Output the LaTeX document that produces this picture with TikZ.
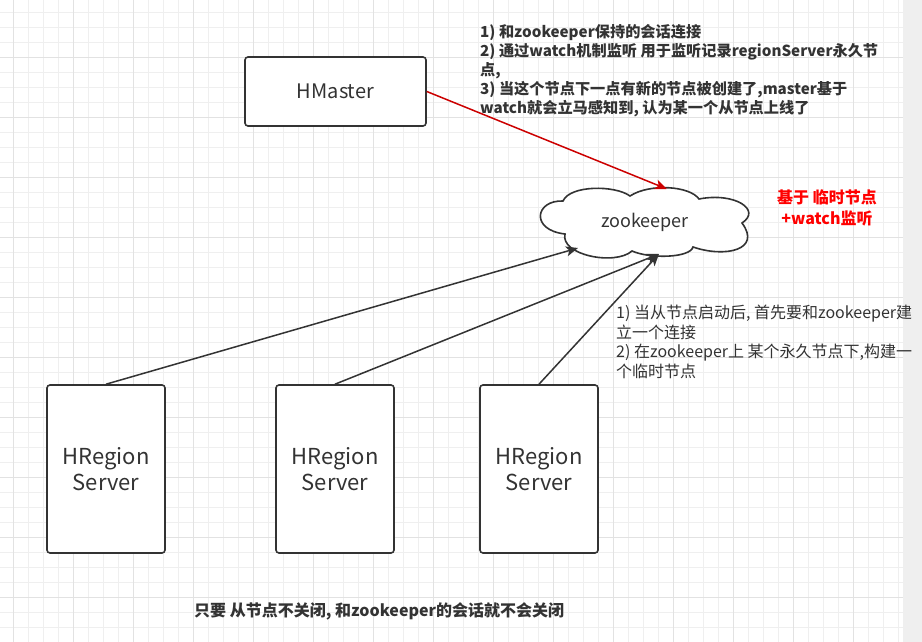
\documentclass[tikz,border=0pt]{standalone}
\usepackage{fontspec}
\setmainfont{Noto Sans CJK SC}
\usetikzlibrary{arrows.meta}
\definecolor{ink}{HTML}{333333}
\definecolor{gridminor}{HTML}{EFEFEF}
\definecolor{gridmajor}{HTML}{E2E2E2}
\definecolor{sidebar}{HTML}{EFEFEF}
\definecolor{redline}{HTML}{CC0000}
\definecolor{rednote}{HTML}{FF0000}
\begin{document}
\begin{tikzpicture}[x=1pt,y=-1pt,
  box/.style={draw=ink, line width=1.6pt, rounded corners=3pt, fill=white, text=ink, align=center, inner sep=0pt},
  bigtext/.style={font=\fontsize{22}{26}\selectfont},
  conn/.style={draw=ink, line width=1.5pt, -{Stealth[length=12pt,width=10pt,inset=3pt]}},
  redconn/.style={draw=redline, line width=1.5pt, -{Stealth[length=12pt,width=10pt,inset=3pt]}},
  note/.style={text=ink, align=left, inner sep=0pt, anchor=north west},
  cloudline/.style={draw=ink, line width=1.6pt, fill=white}]
\useasboundingbox (0,0) rectangle (922,642);
% background grid
\fill[white] (0,0) rectangle (922,642);
\foreach \k in {0,...,60} {\draw[gridminor, line width=1pt] ({-1.7+15*\k},0) -- ({-1.7+15*\k},642);}
\foreach \k in {0,...,43} {\draw[gridminor, line width=1pt] (0,{-2.7+15*\k}) -- (903,{-2.7+15*\k});}
\foreach \k in {0,...,14} {\draw[gridmajor, line width=1pt] ({13.3+60*\k},0) -- ({13.3+60*\k},642);}
\foreach \k in {0,...,10} {\draw[gridmajor, line width=1pt] (0,{57.3+60*\k}) -- (903,{57.3+60*\k});}
\fill[sidebar] (903,0) rectangle (922,642);

% cloud
\path[cloudline] (563,201) .. controls (535,200) and (530,230) .. (565,234)
  .. controls (560,255) and (615,266) .. (632,251)
  .. controls (650,259) and (690,258) .. (693,247)
  .. controls (725,258) and (762,250) .. (742,223)
  .. controls (762,210) and (735,192) .. (699,199)
  .. controls (690,186) and (650,183) .. (630,196)
  .. controls (615,185) and (570,185) .. (563,201) -- cycle;
\node[text=ink, font=\fontsize{18}{22}\selectfont, inner sep=0pt] (zk) at (645,222) {zookeeper};
\coordinate (zkTop) at (667,189);
\coordinate (zkLeft) at (578,248);
\coordinate (zkBottom) at (659,254);

% boxes
\node[box, minimum width=181pt, minimum height=69pt, font=\fontsize{20}{24}\selectfont] (hm) at (335.5,91.5) {HMaster};
\node[box, bigtext, minimum width=118pt, minimum height=168pt] (hr1) at (106,469) {HRegion\\Server};
\node[box, bigtext, minimum width=118pt, minimum height=168pt] (hr2) at (335,469) {HRegion\\Server};
\node[box, bigtext, minimum width=118pt, minimum height=168pt] (hr3) at (539,469) {HRegion\\Server};

% connectors
\draw[redconn] (hm.east) -- (zkTop);
\draw[conn] (hr1.north) -- (zkLeft);
\draw[conn] (hr2.north) -- (zkBottom);
\draw[conn] (hr3.north) -- (zkBottom);

% annotations
\node[note, font=\bfseries\fontsize{15.2}{19}\selectfont] (topnote) at (480,24) {1) 和zookeeper保持的会话连接\\
2) 通过watch机制监听 用于监听记录regionServer永久节\\
点,\\
3) 当这个节点下一点有新的节点被创建了,master基于\\
watch就会立马感知到, 认为某一个从节点上线了};
\node[note, font=\fontsize{16}{19.5}\selectfont] (rightnote) at (616,305) {1) 当从节点启动后, 首先要和zookeeper建\\
立一个连接\\
2) 在zookeeper上 某个永久节点下,构建一\\
个临时节点};
\node[text=rednote, align=center, inner sep=0pt, font=\bfseries\fontsize{16}{21}\selectfont] (rednote) at (827,208) {基于 临时节点\\+watch监听};
\node[text=ink, inner sep=0pt, anchor=west, font=\bfseries\fontsize{16}{19}\selectfont] (bottomnote) at (194,611) {只要 从节点不关闭, 和zookeeper的会话就不会关闭};
\end{tikzpicture}
\end{document}
